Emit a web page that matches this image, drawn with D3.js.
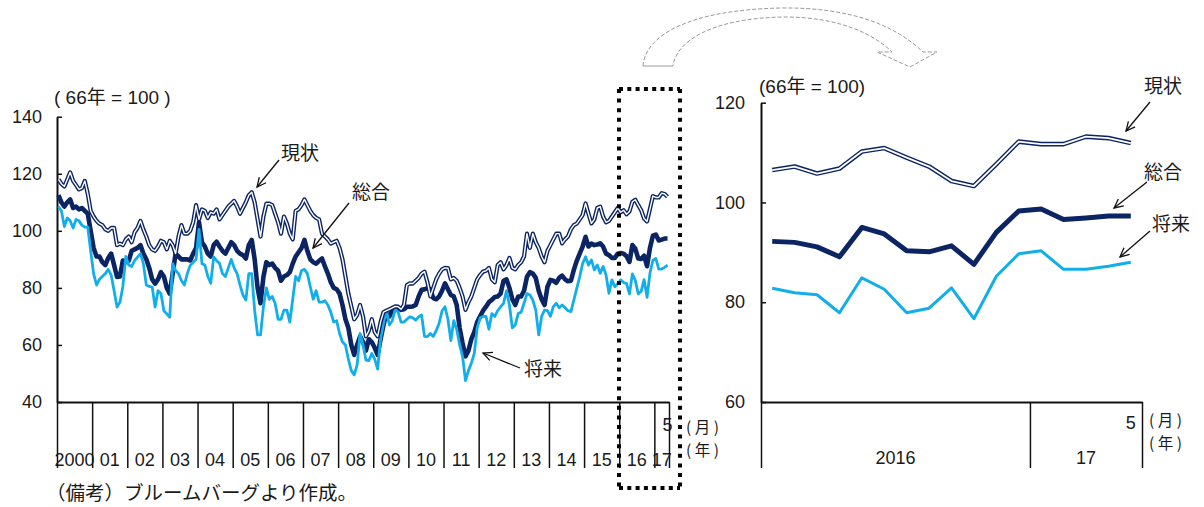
<!DOCTYPE html>
<html><head><meta charset="utf-8">
<script src="https://cdn.jsdelivr.net/npm/d3@7"></script>
<style>
body{margin:0;background:#fff;}
svg text{font-family:"Liberation Sans",Arial,"Noto Sans CJK JP",sans-serif;fill:#1a1a1a;}
svg text.jp{font-family:"Noto Sans CJK JP","Liberation Sans",sans-serif;}
</style></head><body>
<svg id="chart" width="1204" height="507"></svg>
<script>
// Consumer confidence indices (1966 = 100), monthly, Jan 2000 - May 2017
const yearLabelsLong = ["2000","01","02","03","04","05","06","07","08","09","10","11","12","13","14","15","16","17"];
const yearLabelsRecent = ["2016","17"];
const yTicksLong = [40, 60, 80, 100, 120, 140];
const yTicksRecent = [60, 80, 100, 120];
const lastMonthLabel = "5";

// 現状 (current conditions), Jan 2000 - Dec 2015
const genjoHist = [
  118,116.5,115.5,118,120.5,117.5,116,114.5,115,117.5,113,107,
  105,103.5,102.5,102,100.5,100,101,101,95,95.5,95,97,
  98,96,99.5,101,103.5,100.5,98,95,93.5,93,94.5,96.5,
  96,93.5,96.5,95,92,98,102,99,99,100,103,109,
  104,107.5,107,104.5,106.5,106,107.5,104,105.5,107,108.5,109.5,
  110.5,108.5,106,108,110,112.5,113.5,110,104,98,105,109.5,
  109.5,109,106,103,99,105,102.6,99,97,107,107.5,109,
  111,109,107,105.5,104.5,104,99,98,97,95.5,96,96.5,
  94,90,84,78,73.5,69,70.5,74,70,63,65,69,
  64.5,63,68,71.5,72,72.5,73,73.5,73.4,72.5,74,81,
  81.6,81.5,82.5,83.5,85,85.7,82,77,80,83,85,86.5,
  87,86.9,83,83.5,82.5,80,77,72.3,75,77,80,83,
  84.5,85.7,86,87,83,82,88,89,86.5,88,90.5,87,
  86.5,88,89,91,99,94,99,96,94,91,89,93,
  95,97,99,99,95.6,97,98,100.5,102,102.5,104,105.5,
  109.6,106,102.6,104,108,108.5,105,103,103.5,105,106.5,108
];
// 総合 (overall index), Jan 2000 - Dec 2015
const sogoHist = [
  112.5,110,108.5,110,111,108,108.5,107.5,108,107,106,100,
  94,91,91,89,88,90.5,92,88,83.8,84,89.6,89,
  89.5,93,93.5,94,95,92,90,87,83,81.5,83,85.5,
  84,80,78,85,92,91,90,90,90,89.6,92,94,
  103,96,94.5,92,91,95,96.2,94.5,93,92,94,96,
  95,93,92,91.5,90.3,95,96.8,90,80,74.6,83.9,89,
  88,88.5,87,86,82.5,84,84.5,85.5,88.5,91,92.5,94,
  96.8,93,90,89,88.5,89.5,90.3,87.5,85,82,80,79.5,
  78,74,69,66,60,56.5,60,63,61,58,62,61,
  59,56.5,62,67,71,70,72,72.3,72.8,72.3,72.5,73.4,
  73.4,73.5,74,77,79.3,79.5,79.9,79.5,76.4,76,77,79,
  81.6,79.5,77.5,77,74,66,60.6,56,58,62,64.5,68,
  70,72,73.4,75,75.8,76.8,77,78,82.5,83,80,76,
  74,77,77,79,83.9,85.5,85,83.5,79,76,74,80.4,
  82.8,82.5,81.8,83.5,84.3,83,82.3,82.5,86.3,89.5,92,94.5,
  97.9,94.5,95.5,95,95.2,95.6,94.5,92,91.5,90.5,90.5,92
];
// 将来 (expectations), Jan 2000 - Dec 2015
const shoraiHist = [
  108.5,107,101.5,104.5,103.5,101,104,103.5,102,101.3,101.3,93,
  85,81,83,84,85,86.5,84.5,79,73.3,75,80.5,91,
  88,87.5,89.6,90.8,92,88.5,81,80.5,80.3,73.3,79,78,
  72,70.9,69.7,88.5,86.1,85,82.6,81,85,87.9,89,90,
  100.5,88.5,88,84,81.6,90.9,89.5,88.6,85,84,87,90,
  87,85,81,77.5,75.7,85,85,72,63.5,63.5,73.4,80,
  76,77,74.5,69,69,72.2,72.2,68,76,84,82.5,86,
  86.5,85,80.4,76,79,75,75,75.5,74,71.5,68,68.5,
  64,61,60,55,51,49.5,53,64,60,54.7,54.5,57,
  55,51.5,62,67.6,72,67,68.5,72.5,71.5,68,68,69,
  69.9,69.5,68.7,69.9,70.5,63,62.9,64,63,65,67.6,72,
  73.4,69,61.5,68.5,65.5,60,56,47.5,51,53.6,57,66,
  69.5,70,70,65.5,71,70,72,73.4,74.6,79,74,66,
  67,71,71.5,74.6,78,77.5,75.7,72.2,63.5,70,72.2,72,
  70,73.4,74.6,73,74,73,72,71.7,75.7,79.8,83.9,88.5,
  90.9,88,89.8,86.3,88,85.1,87.5,84.5,78.1,82.8,80.4,81.5
];
// Jan 2016 - May 2017
const genjoRecent  = [106.5,107.2,105.8,106.8,110.2,110.9,109.0,107.2,104.3,103.3,107.7,112.2,111.7,111.7,113.2,112.9,111.9];
const sogoRecent   = [92.2,92.0,91.1,89.1,95.0,93.7,90.3,90.1,91.3,87.6,94.0,98.3,98.7,96.6,96.9,97.3,97.3];
const shoraiRecent = [82.8,81.9,81.5,77.9,84.9,82.6,77.9,78.8,82.9,76.7,85.2,89.7,90.3,86.6,86.6,87.2,88.0];

const NAVY = "#0b2463", LIGHT = "#12aeea", INK = "#111";
const svg = d3.select("#chart");

function drawPanel(cfg) {
  const g = svg.append("g");
  const n = cfg.series[0].values.length;
  const x = d3.scaleBand().domain(d3.range(n)).range([cfg.x0, cfg.x1]).paddingInner(0).paddingOuter(0);
  const xm = d3.scaleLinear().domain([0, n]).range([cfg.x0, cfg.x1]);
  const y = d3.scaleLinear().domain(cfg.yDomain).range([cfg.yBottom, cfg.yTop]);
  const cx = i => x(i) + x.bandwidth() / 2;

  // y axis
  const ya = g.append("g").attr("transform", `translate(${cfg.x0},0)`)
    .call(d3.axisLeft(y).tickValues(cfg.yTicks).tickSizeInner(-5).tickSizeOuter(0).tickPadding(cfg.yPad));
  ya.select(".domain").attr("stroke", INK).attr("stroke-width", 2);
  ya.selectAll(".tick line").attr("stroke", INK).attr("stroke-width", 1.5);
  ya.selectAll(".tick text").attr("font-size", 18).attr("fill", "#1a1a1a")
    .attr("font-family", "Liberation Sans, Arial, sans-serif");

  // x axis with year dividers
  const xa = g.append("g").attr("transform", `translate(0,${cfg.yBottom})`)
    .call(d3.axisBottom(xm).tickValues(cfg.yearBreaks).tickSizeInner(66).tickSizeOuter(0).tickFormat(""));
  xa.select(".domain").attr("stroke", INK).attr("stroke-width", 2);
  xa.selectAll(".tick line").attr("stroke", INK).attr("stroke-width", 1.5);

  // year labels centred between dividers
  cfg.yearLabels.forEach((lab, k) => {
    const a = xm(cfg.yearBreaks[k]), b = xm(cfg.yearBreaks[k + 1]);
    g.append("text").attr("x", (a + b) / 2).attr("y", cfg.yearLabelY).attr("dy", "0.35em")
      .attr("text-anchor", "middle").attr("font-size", 18).text(lab);
  });
  // last-month label
  g.append("text").attr("x", cx(n - 1)).attr("y", cfg.monthLabelY).attr("dy", "0.35em")
    .attr("text-anchor", "middle").attr("font-size", 18).text(lastMonthLabel);
  // unit labels (month / year)
  g.append("text").attr("class", "jp").attr("font-size", 15.5)
    .attr("x", cfg.unitX).attr("y", cfg.unitY1).attr("dy", "0.35em").text("( 月 )");
  g.append("text").attr("class", "jp").attr("font-size", 15.5)
    .attr("x", cfg.unitX).attr("y", cfg.unitY2).attr("dy", "0.35em").text("( 年 )");

  // index base note
  g.append("text").attr("x", cfg.noteX).attr("y", cfg.noteY).attr("dy", "0.35em")
    .attr("font-size", 19).text(cfg.note);

  // lines
  const line = d3.line().x((d, i) => cx(i)).y(d => y(d));
  cfg.series.forEach(s => {
    if (s.double) {
      g.append("path").datum(s.values).attr("d", line).attr("fill", "none")
        .attr("stroke", NAVY).attr("stroke-width", s.width).attr("stroke-linejoin", "round");
      g.append("path").datum(s.values).attr("d", line).attr("fill", "none")
        .attr("stroke", "#fff").attr("stroke-width", s.inner).attr("stroke-linejoin", "round");
    } else {
      g.append("path").datum(s.values).attr("d", line).attr("fill", "none")
        .attr("stroke", s.color).attr("stroke-width", s.width).attr("stroke-linejoin", "round");
    }
  });
  return g;
}

function callout(label, tx, ty, x1, y1, x2, y2) {
  svg.append("text").attr("class", "jp").attr("x", tx).attr("y", ty).attr("dy", "0.36em")
    .attr("font-size", 19).text(label);
  svg.append("line").attr("x1", x1).attr("y1", y1).attr("x2", x2).attr("y2", y2)
    .attr("stroke", INK).attr("stroke-width", 1.3);
  const ang = Math.atan2(y1 - y2, x1 - x2), L = 10, w = 0.45;
  const p = a => [x2 + L * Math.cos(a), y2 + L * Math.sin(a)];
  const [ax, ay] = p(ang + w), [bx, by] = p(ang - w);
  svg.append("path").attr("d", `M${ax},${ay}L${x2},${y2}L${bx},${by}`)
    .attr("fill", "none").attr("stroke", INK).attr("stroke-width", 1.3);
}

// long-run panel
const longYearBreaks = d3.range(0, 205, 12).concat([209]);
drawPanel({
  x0: 57, x1: 669, yTop: 116.7, yBottom: 402, yDomain: [40, 140], yTicks: yTicksLong, yPad: 15,
  yearBreaks: longYearBreaks, yearLabels: yearLabelsLong, yearLabelY: 460, monthLabelY: 425,
  unitX: 686, unitY1: 428, unitY2: 451, noteX: 54, noteY: 97, note: "( 66年 = 100 )",
  series: [
    { values: sogoHist.concat(sogoRecent), color: NAVY, width: 4.6 },
    { values: shoraiHist.concat(shoraiRecent), color: LIGHT, width: 2.8 },
    { values: genjoHist.concat(genjoRecent), double: true, width: 4.2, inner: 1.4 }
  ]
});

// recent panel
drawPanel({
  x0: 761, x1: 1142, yTop: 102.7, yBottom: 402, yDomain: [60, 120], yTicks: yTicksRecent, yPad: 16,
  yearBreaks: [0, 12, 17], yearLabels: yearLabelsRecent, yearLabelY: 458, monthLabelY: 423,
  unitX: 1149, unitY1: 421, unitY2: 444, noteX: 759, noteY: 86, note: "(66年 = 100)",
  series: [
    { values: shoraiRecent, color: LIGHT, width: 3 },
    { values: sogoRecent, color: NAVY, width: 5 },
    { values: genjoRecent, double: true, width: 4.6, inner: 1.8 }
  ]
});

// series callouts
callout("現状", 281, 153, 279, 160, 257, 187);
callout("総合", 352, 192, 349, 203, 313, 248);
callout("将来", 524, 369, 520, 368, 483, 353);
callout("現状", 1144, 86, 1150, 102, 1126, 131);
callout("総合", 1144, 172, 1147, 182, 1114, 208);
callout("将来", 1152, 224, 1150, 231, 1120, 257);

// dotted frame around the zoomed period
const frame = svg.append("g").attr("fill", "none").attr("stroke", "#000").attr("stroke-width", 4);
const fx0 = 619, fx1 = 680, fy0 = 89, fy1 = 488;
frame.append("path").attr("d", `M${fx0},${fy0}H${fx1}M${fx0},${fy1}H${fx1}`).attr("stroke-dasharray", "4,4.3");
frame.append("path").attr("d", `M${fx0},${fy0}V${fy1}M${fx1},${fy0}V${fy1}`).attr("stroke-dasharray", "4,5.6");

// curved arrow pointing to the recent panel
const arrowG = svg.append("g").attr("fill", "none").attr("stroke", "#999").attr("stroke-width", 1);
arrowG.append("path").attr("stroke-dasharray", "4,2")
  .attr("d", "M643,66 C645,35 690,10 780,8 C850,7 895,25 923,52 L937,52 L910,67 L877,52 L892,52 C875,35 840,17 785,17 C710,18 676,42 673,66");
arrowG.append("path").attr("d", "M643,66 L673,66");

// source note
svg.append("text").attr("class", "jp").attr("x", 46).attr("y", 493).attr("dy", "0.36em")
  .attr("font-size", 19.5).text("（備考）ブルームバーグより作成。");
</script>
</body></html>
